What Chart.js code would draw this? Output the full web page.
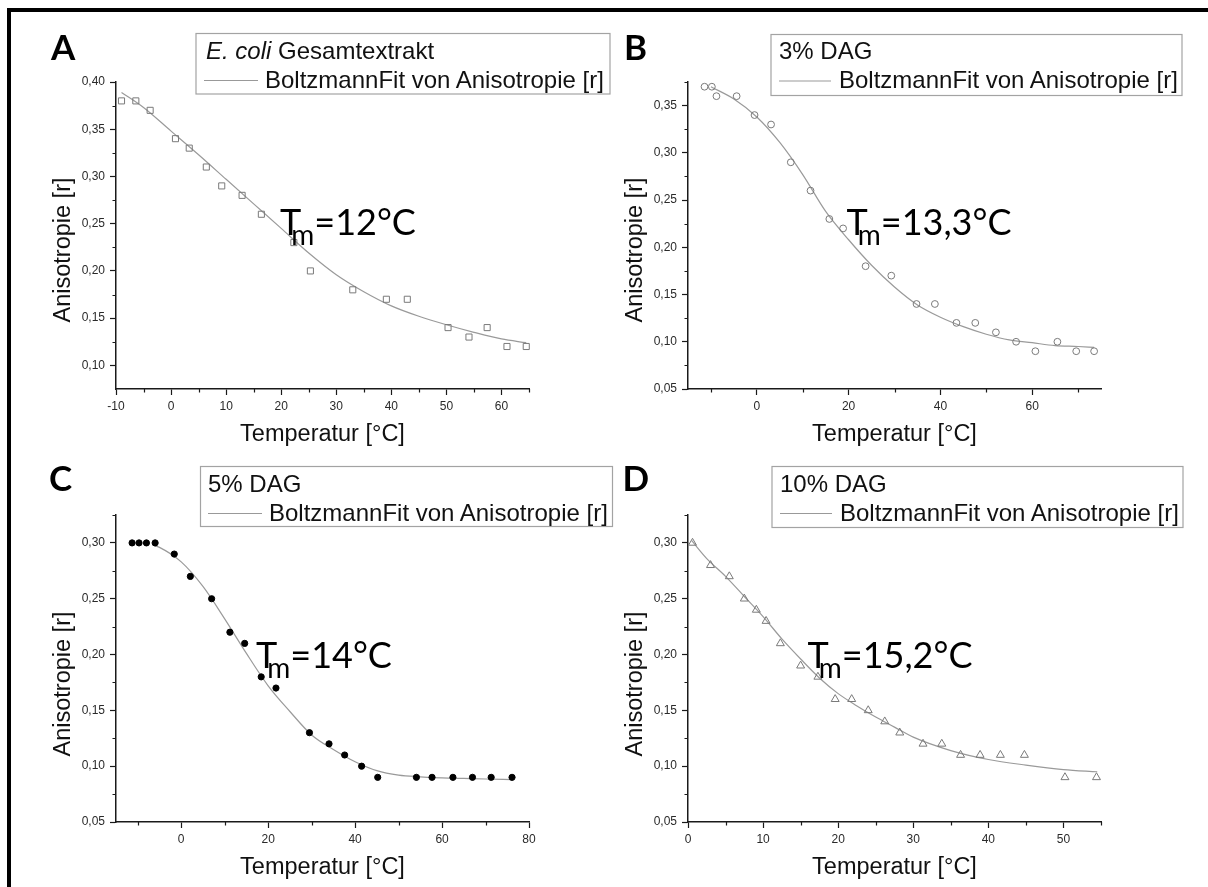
<!DOCTYPE html>
<html>
<head>
<meta charset="utf-8">
<title>Anisotropie – Boltzmann-Fits</title>
<script src="https://cdn.jsdelivr.net/npm/chart.js@4.4.1/dist/chart.umd.min.js"></script>
<style>
  html, body { margin: 0; padding: 0; background: #fff; }
  #page { position: relative; width: 1208px; height: 887px; overflow: hidden; background: #fff; }
  #page canvas { position: absolute; }
  #overlay { position: absolute; left: 0; top: 0; pointer-events: none; }
  .panel-letter { font-family: "Lato", "Open Sans", sans-serif; font-weight: 700; font-size: 35px; fill: #000; }
  .legend-text { font-family: "Liberation Sans", Arial, sans-serif; font-size: 24px; fill: #111; }
  .axis-title { font-family: "Liberation Sans", Arial, sans-serif; font-size: 23.5px; fill: #111; }
  .tm { font-family: "Lato", "Open Sans", sans-serif; font-size: 36px; fill: #000; }
</style>
</head>
<body>
<div id="page">
  <canvas id="chartA" width="604" height="443" style="left:0px;top:0px"></canvas>
  <canvas id="chartB" width="604" height="443" style="left:572px;top:0px"></canvas>
  <canvas id="chartC" width="604" height="443" style="left:0px;top:433px"></canvas>
  <canvas id="chartD" width="604" height="443" style="left:572px;top:433px"></canvas>

  <svg id="overlay" width="1208" height="887" xmlns="http://www.w3.org/2000/svg">
    <!-- frame -->
    <rect x="7" y="8" width="1201" height="4" fill="#000"/>
    <rect x="7" y="8" width="4" height="879" fill="#000"/>

    <!-- panel letters -->
    <text class="panel-letter" x="51" y="59.5">A</text>
    <text class="panel-letter" x="624" y="59.5">B</text>
    <text class="panel-letter" x="49" y="491">C</text>
    <text class="panel-letter" x="622.5" y="491">D</text>

    <!-- legends -->
    <g fill="none" stroke="#a3a3a3" stroke-width="1.2">
      <rect x="196" y="33.5" width="414" height="60.5"/>
      <rect x="771" y="34.5" width="411" height="61"/>
      <rect x="200.5" y="466.5" width="412" height="60"/>
      <rect x="772" y="466.5" width="411" height="61"/>
    </g>
    <g stroke="#999" stroke-width="1.2">
      <line x1="204" y1="80.5" x2="258" y2="80.5"/>
      <line x1="779" y1="81" x2="831" y2="81"/>
      <line x1="208" y1="513.5" x2="262" y2="513.5"/>
      <line x1="780" y1="513.5" x2="832" y2="513.5"/>
    </g>
    <text class="legend-text" x="206" y="58.5"><tspan font-style="italic">E. coli</tspan> Gesamtextrakt</text>
    <text class="legend-text" x="265" y="87.5">BoltzmannFit von Anisotropie [r]</text>
    <text class="legend-text" x="779" y="59">3% DAG</text>
    <text class="legend-text" x="839" y="88">BoltzmannFit von Anisotropie [r]</text>
    <text class="legend-text" x="208" y="491.5">5% DAG</text>
    <text class="legend-text" x="269" y="520.5">BoltzmannFit von Anisotropie [r]</text>
    <text class="legend-text" x="780" y="491.5">10% DAG</text>
    <text class="legend-text" x="840" y="520.5">BoltzmannFit von Anisotropie [r]</text>

    <!-- axis titles -->
    <text class="axis-title" text-anchor="middle" transform="translate(70.4,250) rotate(-90)">Anisotropie [r]</text>
    <text class="axis-title" text-anchor="middle" transform="translate(642.4,250) rotate(-90)">Anisotropie [r]</text>
    <text class="axis-title" text-anchor="middle" transform="translate(70.4,684) rotate(-90)">Anisotropie [r]</text>
    <text class="axis-title" text-anchor="middle" transform="translate(642.4,684) rotate(-90)">Anisotropie [r]</text>
    <text class="axis-title" text-anchor="middle" x="322.5" y="441">Temperatur [°C]</text>
    <text class="axis-title" text-anchor="middle" x="894.5" y="441">Temperatur [°C]</text>
    <text class="axis-title" text-anchor="middle" x="322.5" y="874">Temperatur [°C]</text>
    <text class="axis-title" text-anchor="middle" x="894.5" y="874">Temperatur [°C]</text>

    <!-- melting temperatures -->
    <text class="tm" x="280" y="234.5">T<tspan dx="-10" dy="10" font-size="28">m</tspan><tspan dy="-10">=12°C</tspan></text>
    <text class="tm" x="846.5" y="234.5">T<tspan dx="-10" dy="10" font-size="28">m</tspan><tspan dy="-10">=13,3°C</tspan></text>
    <text class="tm" x="256" y="667.5">T<tspan dx="-10" dy="10" font-size="28">m</tspan><tspan dy="-10">=14°C</tspan></text>
    <text class="tm" x="807.5" y="667.5">T<tspan dx="-10" dy="10" font-size="28">m</tspan><tspan dy="-10">=15,2°C</tspan></text>
  </svg>
</div>

<script>
// ---- Messwerte: E. coli Gesamtextrakt ----
const tempA = [-9.0, -6.4, -3.8, 0.8, 3.3, 6.4, 9.2, 12.9, 16.4, 22.3, 25.3, 33.0, 39.1, 42.9, 50.3, 54.1, 57.4, 61.0, 64.5];
const anisoA = [0.38, 0.38, 0.37, 0.34, 0.33, 0.31, 0.29, 0.28, 0.26, 0.23, 0.20, 0.18, 0.17, 0.17, 0.14, 0.13, 0.14, 0.12, 0.12];
const fitTempA = [-9, -5, 0, 5, 10, 15, 20, 25, 30, 35, 40, 45, 50, 55, 60, 64.5];
const fitAnisoA = [0.389, 0.373, 0.348, 0.323, 0.297, 0.271, 0.245, 0.219, 0.196, 0.178, 0.163, 0.152, 0.143, 0.135, 0.128, 0.124];

// ---- Messwerte: 3% DAG ----
const tempB = [-11.4, -9.8, -8.8, -4.4, -0.5, 3.1, 7.4, 11.7, 15.8, 18.8, 23.7, 29.3, 34.8, 38.8, 43.5, 47.6, 52.1, 56.5, 60.7, 65.5, 69.6, 73.5];
const anisoB = [0.37, 0.37, 0.36, 0.36, 0.34, 0.33, 0.29, 0.26, 0.23, 0.22, 0.18, 0.17, 0.14, 0.14, 0.12, 0.12, 0.11, 0.10, 0.09, 0.10, 0.09, 0.09];
const fitTempB = [-10, -5, 0, 5, 10, 15, 20, 25, 30, 35, 40, 45, 50, 55, 60, 65, 70, 73.5];
const fitAnisoB = [0.370, 0.357, 0.338, 0.311, 0.277, 0.238, 0.208, 0.181, 0.158, 0.139, 0.126, 0.116, 0.108, 0.102, 0.099, 0.096, 0.095, 0.094];

// ---- Messwerte: 5% DAG ----
const tempC = [-11.3, -9.7, -8.0, -6.0, -1.6, 2.1, 7.0, 11.2, 14.6, 18.4, 21.8, 29.5, 34.0, 37.6, 41.5, 45.2, 54.1, 57.7, 62.5, 67.0, 71.3, 76.1];
const anisoC = [0.30, 0.30, 0.30, 0.30, 0.29, 0.27, 0.25, 0.22, 0.21, 0.18, 0.17, 0.13, 0.12, 0.11, 0.10, 0.09, 0.09, 0.09, 0.09, 0.09, 0.09, 0.09];
const fitTempC = [-6.5, -5, 0, 5, 10, 15, 20, 25, 30, 35, 40, 45, 50, 55, 60, 65, 70, 76];
const fitAnisoC = [0.298, 0.296, 0.283, 0.261, 0.232, 0.201, 0.172, 0.149, 0.128, 0.115, 0.104, 0.096, 0.092, 0.0905, 0.0895, 0.089, 0.0885, 0.088];

// ---- Messwerte: 10% DAG ----
const tempD = [0.6, 3.0, 5.5, 7.5, 9.1, 10.4, 12.3, 15.0, 17.3, 19.6, 21.8, 24.0, 26.2, 28.2, 31.3, 33.8, 36.3, 38.9, 41.6, 44.8, 50.2, 54.4];
const anisoD = [0.30, 0.28, 0.27, 0.25, 0.24, 0.23, 0.21, 0.19, 0.18, 0.16, 0.16, 0.15, 0.14, 0.13, 0.12, 0.12, 0.11, 0.11, 0.11, 0.11, 0.09, 0.09];
const fitTempD = [0.5, 2.5, 5, 7.5, 10, 12.5, 15, 17.5, 20, 22.5, 25, 27.5, 30, 35, 40, 45, 50, 54.5];
const fitAnisoD = [0.302, 0.286, 0.270, 0.252, 0.234, 0.214, 0.196, 0.179, 0.165, 0.154, 0.144, 0.135, 0.126, 0.114, 0.106, 0.101, 0.097, 0.095];

// ---- Achsenteilungen (beschriftet / Zwischenstriche) ----
const xTicksA = [-10, 0, 10, 20, 30, 40, 50, 60];
const xMinorA = [-5, 5, 15, 25, 35, 45, 55, 65];
const yTicksA = [0.10, 0.15, 0.20, 0.25, 0.30, 0.35, 0.40];
const yMinorA = [0.125, 0.175, 0.225, 0.275, 0.325, 0.375];

const xTicksB = [0, 20, 40, 60];
const xMinorB = [-10, 10, 30, 50, 70];
const yTicksB = [0.05, 0.10, 0.15, 0.20, 0.25, 0.30, 0.35];
const yMinorB = [0.075, 0.125, 0.175, 0.225, 0.275, 0.325, 0.375];

const xTicksC = [0, 20, 40, 60, 80];
const xMinorC = [-10, 10, 30, 50, 70];
const yTicksCD = [0.05, 0.10, 0.15, 0.20, 0.25, 0.30];
const yMinorCD = [0.075, 0.125, 0.175, 0.225, 0.275, 0.325];

const xTicksD = [0, 10, 20, 30, 40, 50];
const xMinorD = [5, 15, 25, 35, 45, 55];

const AXIS = '#1a1a1a';
const TICK_TEXT = '#2a2a2a';
const FIT_LINE = '#9a9a9a';
const TICK_FONT = { family: '"Liberation Sans", Arial, sans-serif', size: 12 };

// short unlabeled ticks between the labelled ones
const minorTicks = {
  id: 'minorTicks',
  afterDraw(chart, args, opts) {
    const { ctx, chartArea: a, scales: { x, y } } = chart;
    ctx.save();
    ctx.strokeStyle = AXIS;
    ctx.lineWidth = 1.2;
    ctx.beginPath();
    (opts.x || []).forEach(v => {
      const p = Math.round(x.getPixelForValue(v)) + 0.5;
      ctx.moveTo(p, a.bottom);
      ctx.lineTo(p, a.bottom + 3.5);
    });
    (opts.y || []).forEach(v => {
      const p = Math.round(y.getPixelForValue(v)) + 0.5;
      ctx.moveTo(a.left, p);
      ctx.lineTo(a.left - 3.5, p);
    });
    ctx.stroke();
    ctx.restore();
  }
};

function pts(xs, ys) {
  return xs.map((x, i) => ({ x: x, y: ys[i] }));
}

function panel(id, p) {
  return new Chart(document.getElementById(id), {
    type: 'scatter',
    data: {
      datasets: [
        {
          label: p.name,
          data: pts(p.xs, p.ys),
          pointStyle: p.style,
          pointRadius: p.radius,
          pointHoverRadius: p.radius,
          pointBorderWidth: 1,
          pointBorderColor: p.stroke,
          pointBackgroundColor: p.fill,
          showLine: false,
          clip: false
        },
        {
          label: 'BoltzmannFit von Anisotropie [r]',
          data: pts(p.fx, p.fy),
          showLine: true,
          borderColor: FIT_LINE,
          borderWidth: 1.2,
          pointRadius: 0,
          pointHoverRadius: 0,
          cubicInterpolationMode: 'monotone',
          fill: false,
          clip: false
        }
      ]
    },
    options: {
      responsive: false,
      animation: false,
      devicePixelRatio: 1,
      events: [],
      layout: { padding: { left: 46, top: 82, right: 75, bottom: 24 } },
      plugins: {
        legend: { display: false },
        tooltip: { enabled: false },
        minorTicks: { x: p.xMinor, y: p.yMinor }
      },
      scales: {
        x: {
          type: 'linear',
          min: p.xMin,
          max: p.xMax,
          afterFit(s) { s.height = 30; },
          afterBuildTicks(s) { s.ticks = p.xTicks.map(v => ({ value: v })); },
          ticks: {
            autoSkip: false,
            maxRotation: 0,
            padding: 4,
            color: TICK_TEXT,
            font: TICK_FONT,
            callback: v => String(Math.round(v))
          },
          grid: { drawOnChartArea: false, drawTicks: true, tickLength: 6, tickColor: AXIS, tickWidth: 1.2 },
          border: { display: true, color: AXIS, width: 1.5 }
        },
        y: {
          type: 'linear',
          min: p.yMin,
          max: p.yMax,
          afterFit(s) { s.width = 70; },
          afterBuildTicks(s) { s.ticks = p.yTicks.map(v => ({ value: v })); },
          ticks: {
            autoSkip: false,
            padding: 5,
            color: TICK_TEXT,
            font: TICK_FONT,
            callback: v => v.toFixed(2).replace('.', ',')
          },
          grid: { drawOnChartArea: false, drawTicks: true, tickLength: 6, tickColor: AXIS, tickWidth: 1.2 },
          border: { display: true, color: AXIS, width: 1.5 }
        }
      }
    },
    plugins: [minorTicks]
  });
}

panel('chartA', {
  name: 'E. coli Gesamtextrakt', xs: tempA, ys: anisoA, fx: fitTempA, fy: fitAnisoA,
  style: 'rect', radius: 4.3, stroke: '#7a7a7a', fill: 'rgba(255,255,255,0)',
  xMin: -10, xMax: 65, yMin: 0.075, yMax: 0.40,
  xTicks: xTicksA, xMinor: xMinorA, yTicks: yTicksA, yMinor: yMinorA
});

panel('chartB', {
  name: '3% DAG', xs: tempB, ys: anisoB, fx: fitTempB, fy: fitAnisoB,
  style: 'circle', radius: 3.4, stroke: '#7a7a7a', fill: 'rgba(255,255,255,0)',
  xMin: -15, xMax: 75, yMin: 0.05, yMax: 0.375,
  xTicks: xTicksB, xMinor: xMinorB, yTicks: yTicksB, yMinor: yMinorB
});

panel('chartC', {
  name: '5% DAG', xs: tempC, ys: anisoC, fx: fitTempC, fy: fitAnisoC,
  style: 'circle', radius: 3.1, stroke: '#000', fill: '#000',
  xMin: -15, xMax: 80, yMin: 0.05, yMax: 0.325,
  xTicks: xTicksC, xMinor: xMinorC, yTicks: yTicksCD, yMinor: yMinorCD
});

panel('chartD', {
  name: '10% DAG', xs: tempD, ys: anisoD, fx: fitTempD, fy: fitAnisoD,
  style: 'triangle', radius: 4.6, stroke: '#7a7a7a', fill: 'rgba(255,255,255,0)',
  xMin: 0, xMax: 55, yMin: 0.05, yMax: 0.325,
  xTicks: xTicksD, xMinor: xMinorD, yTicks: yTicksCD, yMinor: yMinorCD
});
</script>
</body>
</html>
